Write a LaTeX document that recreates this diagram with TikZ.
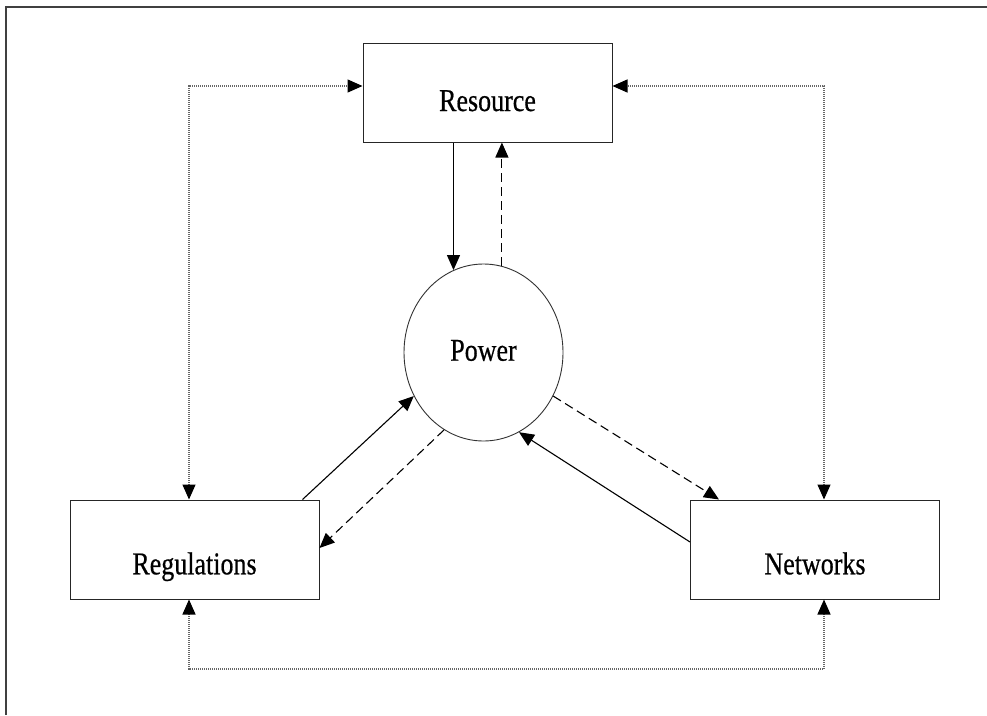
\documentclass[tikz,border=0pt]{standalone}
\usepackage{fontspec}
\setmainfont{Liberation Serif}
\newfontfamily\labelfont{Liberation Serif}[FakeBold=0.6]
\usetikzlibrary{arrows.meta,shapes.geometric}
\newcommand{\lbl}[2]{\raisebox{#1}[0pt][0pt]{\scalebox{1}[1.22]{\labelfont\fontsize{26}{30}\selectfont #2}}}
\tikzset{
  box/.style={draw=black!85, line width=1pt, rectangle, minimum width=249pt, minimum height=99pt, inner sep=0pt},
  circ/.style={draw=black!80, line width=0.9pt, ellipse, minimum width=159pt, minimum height=177pt, inner sep=0pt},
  solidline/.style={-{Triangle[length=15pt,width=13pt]}, line width=1.1pt, draw=black},
  dashline/.style={-{Triangle[length=15pt,width=13pt]}, line width=1.1pt, draw=black, dash pattern=on 9pt off 5pt},
  dotline/.style={{Triangle[length=15pt,width=13pt,color=black]}-{Triangle[length=15pt,width=13pt,color=black]}, line width=1.3pt, draw=black!60, dash pattern=on 1pt off 1pt},
  frame/.style={line width=1.5pt, draw=black!75}
}
\begin{document}
\begin{tikzpicture}[x=1pt,y=-1pt]
\useasboundingbox (0,0) rectangle (987,715);
\fill[white] (0,0) rectangle (987,715);
\coordinate (tl) at (6,7);
\coordinate (tr) at (987,7);
\coordinate (bl) at (6,715);
\draw[frame] (bl) -- (tl) -- (tr);

\node[box] (res) at (487.5,92.5) {\lbl{-18.5pt}{Resource}};
\node[box] (reg) at (194.5,549.5) {\lbl{-24.8pt}{Regulations}};
\node[box] (net) at (815,549.5) {\lbl{-24.8pt}{Networks}};
\node[circ] (pow) at (483.5,352.5) {\lbl{-8.2pt}{Power}};

\coordinate (c1) at (189,86);
\coordinate (c2) at (824,86);
\coordinate (c3) at (189,669);
\coordinate (c4) at (824,669);

\draw[dotline] (reg.north -| c1) -- (c1) -- (res.west |- c1);
\draw[dotline] (net.north -| c2) -- (c2) -- (res.east |- c2);
\draw[dotline] (reg.south -| c3) -- (c3) -- (c4) -- (net.south -| c4);

\draw[solidline] (res.south -| pow.110) -- (pow.110);
\draw[dashline] (pow.78) -- (res.south -| pow.78);
\draw[solidline] ([xshift=-17pt]reg.north east) -- (pow.212);
\draw[dashline] (pow.243) -- ([yshift=1.5pt]reg.east);
\draw[solidline] ([yshift=7.5pt]net.west) -- (pow.294);
\draw[dashline] (pow.328) -- ([xshift=29pt]net.north west);
\end{tikzpicture}
\end{document}
